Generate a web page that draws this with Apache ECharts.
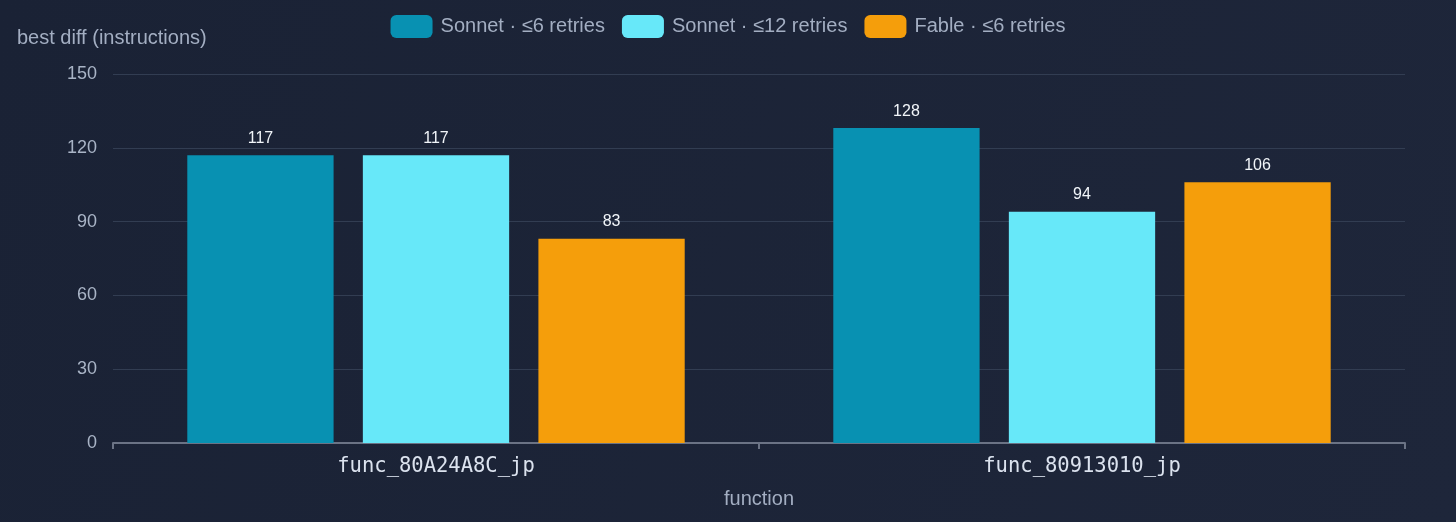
<!DOCTYPE html>
<html>
<head>
<meta charset="utf-8">
<script src="https://cdn.jsdelivr.net/npm/echarts@6/dist/echarts.min.js"></script>
<style>
html,body{margin:0;padding:0;background:#1c2437;}
#c{width:1456px;height:522px;}
</style>
</head>
<body>
<div id="c"></div>
<script>
const categories = ['func_80A24A8C_jp', 'func_80913010_jp'];
const seriesNames = ['Sonnet · ≤6 retries', 'Sonnet · ≤12 retries', 'Fable · ≤6 retries'];
const sonnet6 = [117, 128];
const sonnet12 = [117, 94];
const fable6 = [83, 106];
const yTicks = [0, 30, 60, 90, 120, 150];
const colors = ['#0891b2', '#67e8f9', '#f59e0b'];

const FONT = '"Liberation Sans", Arial, sans-serif';
const chart = echarts.init(document.getElementById('c'));
const seriesData = [sonnet6, sonnet12, fable6];
chart.setOption({
  animation: false,
  backgroundColor: {
    type: 'linear', x: 0, y: 0, x2: 1, y2: 1,
    colorStops: [{offset: 0, color: '#1a2235'}, {offset: 1, color: '#1e263a'}]
  },
  textStyle: {fontFamily: FONT},
  legend: {
    top: 10,
    left: 'center',
    itemWidth: 42,
    itemHeight: 23,
    itemGap: 17,
    icon: 'roundRect',
    textStyle: {color: '#a3aec2', fontSize: 20, fontFamily: FONT, padding: [0, 0, 0, 3]},
    data: seriesNames
  },
  grid: {left: 113, right: 51, top: 74, bottom: 79, containLabel: false},
  xAxis: {
    type: 'category',
    data: categories,
    name: 'function',
    nameLocation: 'middle',
    nameGap: 46,
    nameTextStyle: {color: '#a3aec2', fontSize: 20, fontFamily: FONT},
    axisLine: {lineStyle: {color: '#6b7385', width: 2}},
    axisTick: {show: true, length: 6, lineStyle: {color: '#6b7385', width: 2}},
    axisLabel: {color: '#dbe2ee', fontSize: 20.5, fontFamily: '"DejaVu Sans Mono", monospace', margin: 13}
  },
  yAxis: {
    type: 'value',
    min: yTicks[0],
    max: yTicks[yTicks.length - 1],
    interval: yTicks[1] - yTicks[0],
    name: 'best diff (instructions)',
    nameLocation: 'end',
    nameGap: 26,
    nameTextStyle: {color: '#a3aec2', fontSize: 20, fontFamily: FONT, align: 'left', padding: [0, 0, 0, -96]},
    axisLine: {show: false},
    axisTick: {show: false},
    axisLabel: {color: '#a9b4c6', fontSize: 18, fontFamily: FONT, margin: 16},
    splitLine: {lineStyle: {color: '#323d52', width: 1}}
  },
  series: seriesNames.map((n, i) => ({
    name: n,
    type: 'bar',
    data: seriesData[i],
    barCategoryGap: '23%',
    barGap: '20%',
    itemStyle: {color: colors[i]},
    label: {show: true, position: 'top', distance: 9, color: '#f1f5f9', fontSize: 16, fontFamily: FONT}
  }))
});
</script>
</body>
</html>
